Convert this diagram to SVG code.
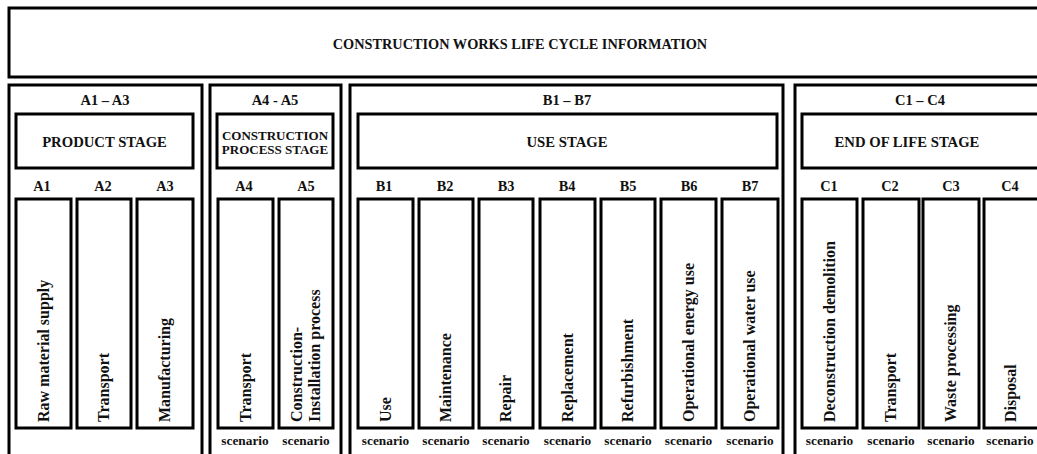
<svg xmlns="http://www.w3.org/2000/svg" width="1037" height="454" viewBox="0 0 1037 454">
<style>
rect{fill:#fff;stroke:#000;stroke-width:3}
text{font-family:"Liberation Serif","Times New Roman",serif;font-weight:bold;fill:#111;text-anchor:middle}
.t{font-size:14.3px}
.g{font-size:14.7px}
.h{font-size:14.5px}
.p{font-size:13px}
.c{font-size:14.3px}
.s{font-size:13.3px}
.v{font-size:16px;text-anchor:start}
</style>
<rect width="1037" height="454" style="fill:#fff;stroke:none"/>
<g id="title">
<rect x="9" y="8" width="1040" height="69"/>
<text class="t" x="520" y="49">CONSTRUCTION WORKS LIFE CYCLE INFORMATION</text>
</g>
<g id="stage-a1a3">
<rect x="9" y="85" width="193" height="400"/>
<text class="h" x="105" y="105">A1 – A3</text>
<rect x="16" y="114" width="177" height="54"/>
<text class="g" x="104.5" y="147">PRODUCT STAGE</text>
</g>
<g id="stage-a4a5">
<rect x="210" y="85" width="131" height="400"/>
<text class="h" x="275" y="105">A4 - A5</text>
<rect x="217" y="114" width="116" height="54"/>
<text class="p" x="275" y="140">CONSTRUCTION</text>
<text class="p" x="275" y="154">PROCESS STAGE</text>
</g>
<g id="stage-b1b7">
<rect x="350" y="85" width="433" height="400"/>
<text class="h" x="567" y="105">B1 – B7</text>
<rect x="358" y="114" width="419" height="54"/>
<text class="g" x="567" y="147">USE STAGE</text>
</g>
<g id="stage-c1c4">
<rect x="795" y="85" width="260" height="400"/>
<text class="h" x="920" y="105">C1 – C4</text>
<rect x="802" y="114" width="250" height="54"/>
<text class="g" x="907" y="147">END OF LIFE STAGE</text>
</g>
<g id="col-a1"><text class="c" x="42" y="191">A1</text><rect x="16" y="199" width="55" height="229"/><text class="v" transform="translate(48.5,422) rotate(-90)">Raw material supply</text></g>
<g id="col-a2"><text class="c" x="103" y="191">A2</text><rect x="77" y="199" width="54" height="229"/><text class="v" transform="translate(109,422) rotate(-90)">Transport</text></g>
<g id="col-a3"><text class="c" x="165" y="191">A3</text><rect x="137" y="199" width="56" height="229"/><text class="v" transform="translate(170,422) rotate(-90)">Manufacturing</text></g>
<g id="col-a4"><text class="c" x="244" y="191">A4</text><rect x="218" y="199" width="55" height="229"/><text class="v" transform="translate(250.5,422) rotate(-90)">Transport</text><text class="s" x="245" y="445">scenario</text></g>
<g id="col-a5"><text class="c" x="306" y="191">A5</text><rect x="279" y="199" width="54" height="229"/><text class="v" transform="translate(302,422) rotate(-90)">Construction-</text><text class="v" transform="translate(320,422) rotate(-90)">Installation process</text><text class="s" x="306" y="445">scenario</text></g>
<g id="col-b1"><text class="c" x="384" y="191">B1</text><rect x="358" y="199" width="55" height="229"/><text class="v" transform="translate(390.5,422) rotate(-90)">Use</text><text class="s" x="385.5" y="445">scenario</text></g>
<g id="col-b2"><text class="c" x="445" y="191">B2</text><rect x="419" y="199" width="54" height="229"/><text class="v" transform="translate(451,422) rotate(-90)">Maintenance</text><text class="s" x="446" y="445">scenario</text></g>
<g id="col-b3"><text class="c" x="506" y="191">B3</text><rect x="479" y="199" width="54" height="229"/><text class="v" transform="translate(511,422) rotate(-90)">Repair</text><text class="s" x="506" y="445">scenario</text></g>
<g id="col-b4"><text class="c" x="567" y="191">B4</text><rect x="540" y="199" width="55" height="229"/><text class="v" transform="translate(572.5,422) rotate(-90)">Replacement</text><text class="s" x="567.5" y="445">scenario</text></g>
<g id="col-b5"><text class="c" x="628" y="191">B5</text><rect x="601" y="199" width="54" height="229"/><text class="v" transform="translate(633,422) rotate(-90)">Refurbishment</text><text class="s" x="628" y="445">scenario</text></g>
<g id="col-b6"><text class="c" x="689" y="191">B6</text><rect x="661" y="199" width="55" height="229"/><text class="v" transform="translate(693.5,422) rotate(-90)">Operational energy use</text><text class="s" x="688.5" y="445">scenario</text></g>
<g id="col-b7"><text class="c" x="750" y="191">B7</text><rect x="722" y="199" width="56" height="229"/><text class="v" transform="translate(755,422) rotate(-90)">Operational water use</text><text class="s" x="750" y="445">scenario</text></g>
<g id="col-c1"><text class="c" x="829" y="191">C1</text><rect x="802" y="199" width="55" height="229"/><text class="v" transform="translate(834.5,422) rotate(-90)">Deconstruction demolition</text><text class="s" x="829.5" y="445">scenario</text></g>
<g id="col-c2"><text class="c" x="890" y="191">C2</text><rect x="863" y="199" width="56" height="229"/><text class="v" transform="translate(896,422) rotate(-90)">Transport</text><text class="s" x="891" y="445">scenario</text></g>
<g id="col-c3"><text class="c" x="951" y="191">C3</text><rect x="923" y="199" width="56" height="229"/><text class="v" transform="translate(956,422) rotate(-90)">Waste processing</text><text class="s" x="951" y="445">scenario</text></g>
<g id="col-c4"><text class="c" x="1010" y="191">C4</text><rect x="984" y="199" width="60" height="229"/><text class="v" transform="translate(1016,422) rotate(-90)">Disposal</text><text class="s" x="1010" y="445">scenario</text></g>
<g id="connectors"></g>
</svg>
